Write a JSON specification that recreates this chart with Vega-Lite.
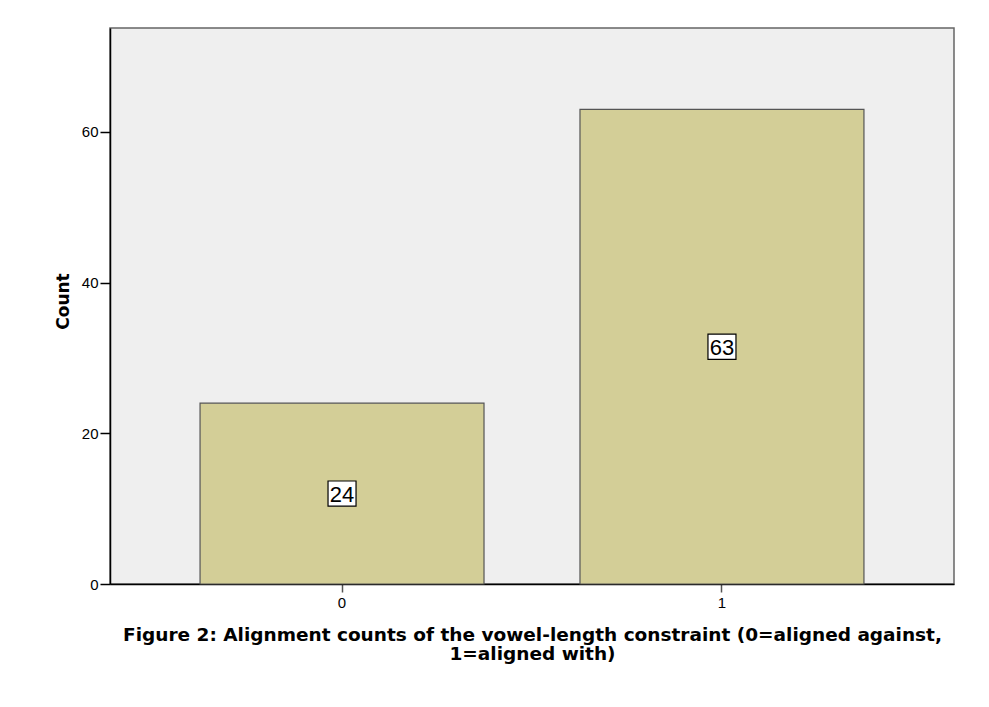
{
  "$schema": "https://vega.github.io/schema/vega-lite/v6.json",
  "autosize": {"type": "none"},
  "padding": {"left": 110, "top": 28, "right": 35, "bottom": 123},
  "width": 844,
  "height": 556,
  "background": "white",
  "config": {
    "view": {"fill": "#efefef", "stroke": "#666666", "strokeWidth": 1.5},
    "font": "Liberation Sans"
  },
  "data": {"values": [{"v": "0", "count": 24}, {"v": "1", "count": 63}]},
  "encoding": {
    "x": {
      "field": "v", "type": "nominal",
      "scale": {"paddingInner": 0.2526, "paddingOuter": 0.237},
      "axis": {
        "labelAngle": 0, "labelFont": "Liberation Sans", "labelFontSize": 15, "labelColor": "#000000",
        "labelPadding": 3, "tickSize": 8, "tickColor": "#555555", "tickWidth": 1.5,
        "domainColor": "#000000", "domainWidth": 1.5,
        "title": ["Figure 2: Alignment counts of the vowel-length constraint (0=aligned against,", "1=aligned with)"],
        "titleFont": "DejaVu Sans", "titleFontSize": 18.5, "titleFontWeight": "bold", "titleColor": "#000000",
        "titleY": 41, "titleBaseline": "top", "titleLineHeight": 19
      }
    }
  },
  "layer": [
    {
      "mark": {"type": "bar", "fill": "#d3ce97", "stroke": "#555555", "strokeWidth": 1.2},
      "encoding": {
        "y": {
          "field": "count", "type": "quantitative",
          "scale": {"domain": [0, 73.8], "nice": false},
          "axis": {
            "values": [0, 20, 40, 60], "grid": false,
            "labelFont": "Liberation Sans", "labelFontSize": 15, "labelColor": "#000000", "labelPadding": 2,
            "tickSize": 10, "tickColor": "#000000", "tickWidth": 1.5,
            "domainColor": "#000000", "domainWidth": 1.5,
            "title": "Count", "titleFont": "DejaVu Sans", "titleFontSize": 17, "titleFontWeight": "bold", "titleColor": "#000000",
            "titleAngle": -90, "titleX": -47, "titleY": 273, "titleAlign": "center", "titleBaseline": "middle"
          }
        }
      }
    },
    {
      "mark": {"type": "point", "shape": "M-1,-0.9H1V0.9H-1Z", "size": 784, "filled": true, "fill": "#ffffff", "stroke": "#000000", "strokeWidth": 1.2, "opacity": 1},
      "encoding": {
        "y": {"field": "count", "type": "quantitative", "scale": {"domain": [0, 147.6], "nice": false}, "axis": null}
      }
    },
    {
      "mark": {"type": "text", "font": "Liberation Sans", "fontSize": 22, "color": "#000000", "baseline": "middle", "align": "center", "dy": 1},
      "encoding": {
        "y": {"field": "count", "type": "quantitative", "scale": {"domain": [0, 147.6], "nice": false}, "axis": null},
        "text": {"field": "count", "type": "quantitative"}
      }
    }
  ],
  "resolve": {"scale": {"y": "independent"}}
}
